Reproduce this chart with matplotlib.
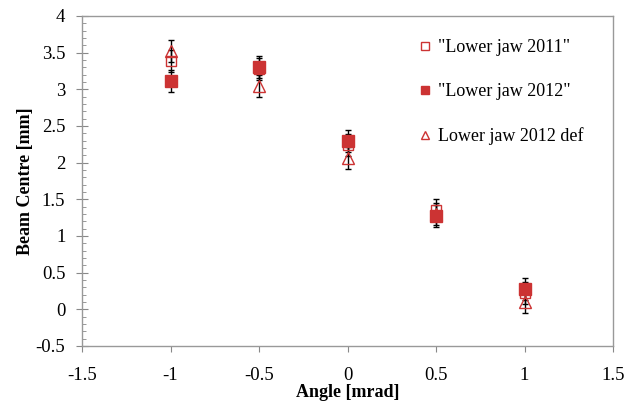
import numpy as np
import matplotlib
matplotlib.use('Agg')
import matplotlib.pyplot as plt
from matplotlib.ticker import MultipleLocator

# data
angle = [-1.0, -0.5, 0.0, 0.5, 1.0]
jaw_2011 = [3.38, 3.28, 2.24, 1.36, 0.22]
jaw_2012 = [3.12, 3.31, 2.29, 1.27, 0.28]
jaw_2012_def = [3.52, 3.04, 2.06, 1.30, 0.10]
err_2011 = [0.15, 0.15, 0.15, 0.15, 0.15]
err_2012 = [0.15, 0.15, 0.15, 0.15, 0.15]
err_2012_def = [0.15, 0.15, 0.15, 0.15, 0.15]

red = '#cc3333'
plt.rcParams['font.family'] = ['Liberation Serif', 'DejaVu Serif']

fig = plt.figure(figsize=(6.32, 4.03), dpi=100)
ax = fig.add_axes([82 / 632, 1 - 346 / 403, (613 - 82) / 632, (346 - 16) / 403])

ekw = dict(ecolor='black', elinewidth=1, capsize=2.5, capthick=1, linestyle='none')
ax.errorbar(angle, jaw_2012_def, yerr=err_2012_def, marker='^', ms=8, mfc='none',
            mec=red, mew=1, label='Lower jaw 2012 def', **ekw)
ax.errorbar(angle, jaw_2011, yerr=err_2011, marker='s', ms=7.5, mfc='none',
            mec=red, mew=1, label='"Lower jaw 2011"', **ekw)
ax.errorbar(angle, jaw_2012, yerr=err_2012, marker='s', ms=8, mfc=red,
            mec=red, mew=1, label='"Lower jaw 2012"', **ekw)

ax.set_xlim(-1.5, 1.5)
ax.set_ylim(-0.5, 4)
ax.xaxis.set_major_locator(MultipleLocator(0.5))
ax.yaxis.set_major_locator(MultipleLocator(0.5))
ax.yaxis.set_minor_locator(MultipleLocator(0.1))
ax.tick_params(axis='x', which='major', labelsize=13.5, length=4, color='#888888',
               direction='out', pad=11)
ax.tick_params(axis='y', which='major', labelsize=13.5, length=8, color='#888888',
               direction='inout', pad=8)
ax.tick_params(axis='y', which='minor', length=3, color='#888888', direction='in')
ax.set_xticklabels([('%g' % v) for v in ax.get_xticks()])
ax.set_yticklabels([('%g' % v) for v in ax.get_yticks()])
for s in ax.spines.values():
    s.set_color('#999999')
    s.set_linewidth(1)

ax.set_xlabel('Angle [mrad]', fontsize=13, fontweight='bold', labelpad=0)
ax.set_ylabel('Beam Centre [mm]', fontsize=13, fontweight='bold', labelpad=1)

h, l = ax.get_legend_handles_labels()
order = [1, 2, 0]
leg = ax.legend([h[i][0] for i in order], [l[i] for i in order], loc='upper right',
                frameon=False, fontsize=13, handlelength=0.6, handletextpad=0.4,
                labelspacing=1.5, markerscale=0.75, bbox_to_anchor=(0.975, 0.98))

fig.savefig('out.png', dpi=100)
